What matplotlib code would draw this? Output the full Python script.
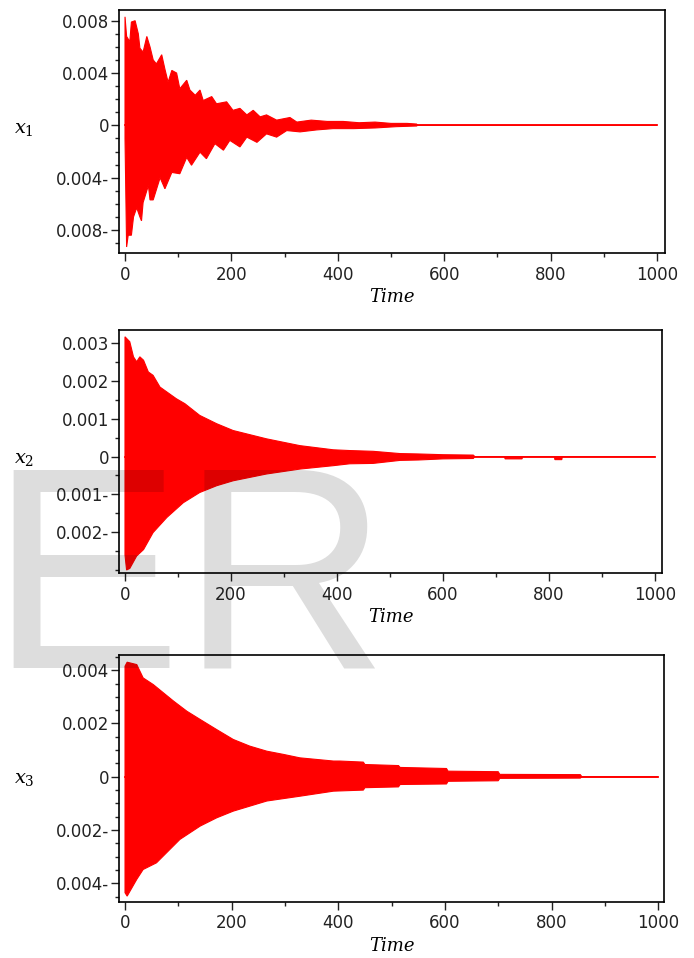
import numpy as np
import matplotlib.pyplot as plt
from matplotlib.ticker import MultipleLocator

plt.rcParams['mathtext.fontset'] = 'dejavuserif'

# ---- data (envelopes of the oscillation, units of 1e-3) ----
# x1
x1_t_up = [0, 3, 9, 12, 19, 25, 28, 34, 41, 47, 53, 59, 69, 75, 81, 88, 97, 103, 116, 122,
           132, 141, 147, 163, 172, 191, 203, 216, 229, 241, 254, 266, 285, 310, 323, 350,
           380, 410, 440, 470, 500, 530, 548, 550, 1000]
x1_up = [8.3, 6.8, 6.4, 7.9, 8.0, 7.0, 5.9, 5.6, 6.8, 6.0, 5.0, 4.7, 5.4, 4.3, 3.3, 4.2,
         4.0, 2.8, 3.45, 2.7, 2.3, 2.7, 1.9, 2.2, 1.65, 1.8, 1.15, 1.3, 0.8, 1.15, 0.65, 0.8,
         0.4, 0.6, 0.25, 0.4, 0.3, 0.3, 0.2, 0.25, 0.15, 0.15, 0.1, 0.0, 0.0]
x1_t_lo = [0, 3, 6, 12, 16, 22, 28, 31, 34, 44, 47, 53, 66, 75, 88, 103, 116, 125, 141, 153,
           169, 185, 197, 216, 229, 248, 266, 285, 304, 329, 360, 391, 430, 470, 510, 548,
           550, 1000]
x1_lo = [-1.0, -9.3, -8.4, -8.4, -7.0, -6.3, -7.0, -7.3, -5.9, -4.6, -5.7, -5.7, -4.0, -4.85,
         -3.6, -3.7, -2.45, -3.05, -2.05, -2.55, -1.4, -1.9, -1.15, -1.65, -0.9, -1.3, -0.65,
         -0.9, -0.4, -0.5, -0.35, -0.25, -0.25, -0.2, -0.1, -0.05, 0.0, 0.0]

# x2
x2_t_up = [0, 9, 16, 22, 28, 35, 44, 53, 66, 79, 97, 113, 141, 173, 204, 267, 330, 393, 424,
           468, 519, 553, 600, 657, 660, 1000]
x2_up = [3.17, 3.04, 2.64, 2.51, 2.64, 2.55, 2.24, 2.15, 1.84, 1.71, 1.53, 1.40, 1.09, 0.87,
         0.69, 0.47, 0.29, 0.18, 0.16, 0.14, 0.08, 0.07, 0.05, 0.04, 0.0, 0.0]
x2_t_lo = [0, 3, 9, 22, 35, 53, 79, 110, 141, 173, 204, 267, 330, 393, 424, 468, 519, 553,
           600, 657, 660, 716, 717, 749, 750, 810, 811, 824, 825, 1000]
x2_lo = [-2.6, -3.0, -2.96, -2.63, -2.46, -2.01, -1.61, -1.22, -0.95, -0.77, -0.64, -0.46,
         -0.33, -0.24, -0.19, -0.18, -0.10, -0.09, -0.06, -0.05, 0.0, 0.0, -0.06, -0.06, 0.0,
         0.0, -0.08, -0.08, 0.0, 0.0]

# x3
x3_t_up = [0, 4, 22, 34, 53, 72, 91, 116, 141, 172, 203, 234, 266, 297, 328, 391, 403, 447,
           450, 513, 516, 603, 606, 700, 703, 854, 857, 1000]
x3_up = [4.15, 4.3, 4.21, 3.71, 3.46, 3.15, 2.84, 2.46, 2.15, 1.77, 1.40, 1.15, 0.96, 0.84,
         0.71, 0.59, 0.59, 0.55, 0.46, 0.42, 0.35, 0.31, 0.21, 0.19, 0.09, 0.08, 0.0, 0.0]
x3_t_lo = [0, 4, 22, 34, 59, 78, 103, 141, 172, 203, 266, 328, 391, 447, 450, 513, 516, 603,
           606, 700, 703, 854, 857, 1000]
x3_lo = [-4.35, -4.48, -3.85, -3.48, -3.23, -2.85, -2.35, -1.85, -1.54, -1.29, -0.91, -0.73,
         -0.54, -0.50, -0.41, -0.38, -0.29, -0.27, -0.17, -0.15, -0.06, -0.05, 0.0, 0.0]

x_ticks = [0, 200, 400, 600, 800, 1000]
x1_yticks = [0.008, 0.004, 0, -0.004, -0.008]
x1_ylabels = ['0.008', '0.004', '0', '0.004-', '0.008-']
x2_yticks = [0.003, 0.002, 0.001, 0, -0.001, -0.002]
x2_ylabels = ['0.003', '0.002', '0.001', '0', '0.001-', '0.002-']
x3_yticks = [0.004, 0.002, 0, -0.002, -0.004]
x3_ylabels = ['0.004', '0.002', '0', '0.002-', '0.004-']

W, H = 694, 958
fig = plt.figure(figsize=(W / 100, H / 100), dpi=100)

panels = [
    # (left, top, right, bottom) px, xlim, ylim, data, ticks, minor, name, label y px
    ((119, 10, 665, 253), (-11.3, 1015), (-0.00976, 0.00882),
     (x1_t_up, x1_up, x1_t_lo, x1_lo), x1_yticks, x1_ylabels, 0.001, '$x_{1}$', 129),
    ((119, 330, 662, 573), (-11.3, 1013), (-0.00308, 0.00335),
     (x2_t_up, x2_up, x2_t_lo, x2_lo), x2_yticks, x2_ylabels, 0.0005, '$x_{2}$', 459),
    ((119, 655, 664, 902), (-11.3, 1011), (-0.0047, 0.00457),
     (x3_t_up, x3_up, x3_t_lo, x3_lo), x3_yticks, x3_ylabels, 0.0005, '$x_{3}$', 779),
]

for box, xlim, ylim, d, yt, yl, ymin, name, ly in panels:
    l, t, r, b = box
    ax = fig.add_axes([l / W, 1 - b / H, (r - l) / W, (b - t) / H])
    t_up, v_up, t_lo, v_lo = d
    poly_t = np.concatenate([t_up, t_lo[::-1]])
    poly_v = np.concatenate([v_up, v_lo[::-1]]) * 1e-3
    ax.fill(poly_t, poly_v, facecolor='red', edgecolor='red', lw=0.8)
    ax.plot([0, 1000], [0, 0], color='red', lw=1.3)
    ax.set_xlim(xlim)
    ax.set_ylim(ylim)
    ax.set_xticks(x_ticks)
    ax.xaxis.set_minor_locator(MultipleLocator(100))
    ax.set_yticks(yt, labels=yl)
    ax.yaxis.set_minor_locator(MultipleLocator(ymin))
    ax.tick_params(which='major', length=6, width=1, direction='out', labelsize=12,
                   pad=1, colors='#222222')
    ax.tick_params(axis='x', which='major', pad=3)
    ax.tick_params(which='minor', length=3, width=1, direction='out', colors='#222222')
    for s in ax.spines.values():
        s.set_linewidth(1.2)
    ax.set_xlabel('Time', family='DejaVu Serif', style='italic', fontsize=13, labelpad=3)
    fig.text(14 / W, 1 - ly / H, name, fontsize=14, ha='left', va='center')

# watermark
fig.text(-11 / W, 1 - 668 / H, 'ER', fontsize=207, family='Liberation Sans',
         color='black', alpha=0.135, ha='left', va='baseline', zorder=10)

fig.savefig('out.png', dpi=100)
